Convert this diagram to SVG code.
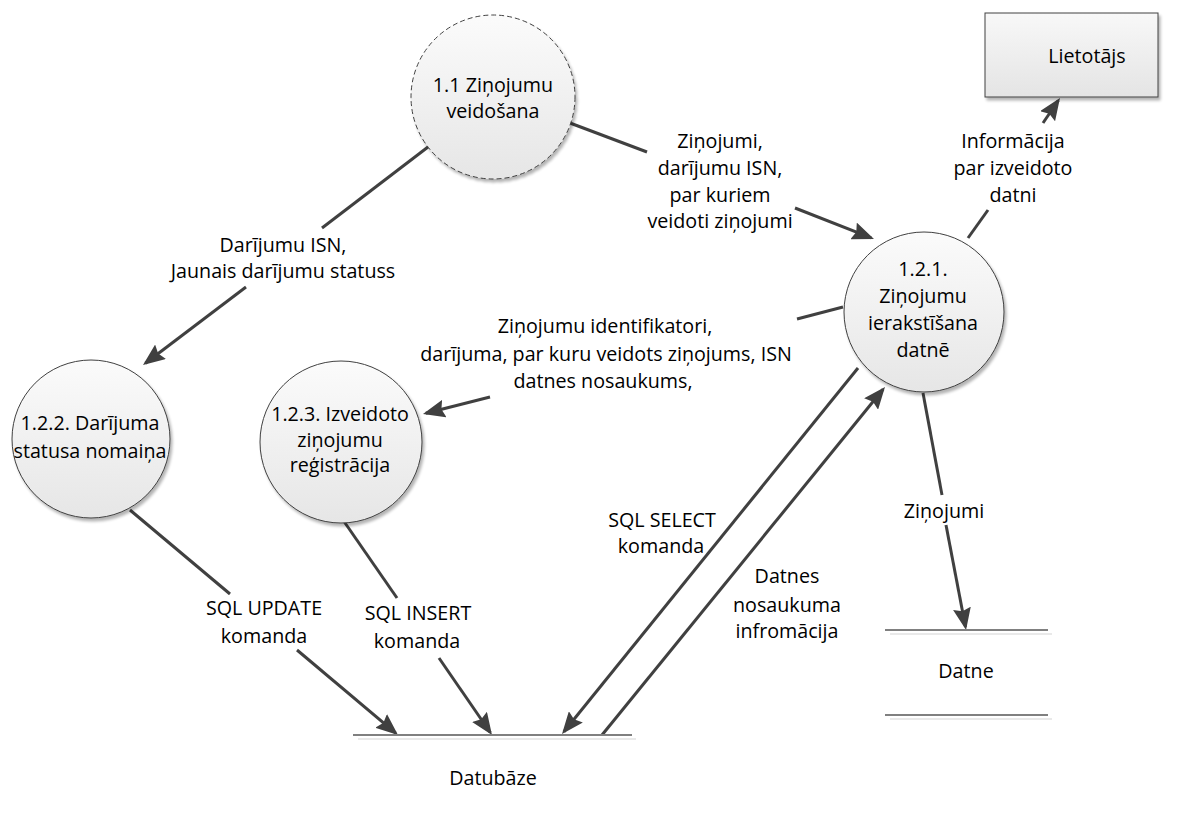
<svg xmlns="http://www.w3.org/2000/svg" width="1190" height="818" viewBox="0 0 1190 818">
<defs>
<linearGradient id="gc" x1="0" y1="0" x2="0" y2="1">
<stop offset="0" stop-color="#fbfbfb"/>
<stop offset="1" stop-color="#e6e6e6"/>
</linearGradient>
<linearGradient id="gb" x1="0" y1="0" x2="0" y2="1">
<stop offset="0" stop-color="#f8f8f8"/>
<stop offset="1" stop-color="#e4e4e4"/>
</linearGradient>
<filter id="sh" x="-20%" y="-20%" width="150%" height="150%">
<feGaussianBlur in="SourceAlpha" stdDeviation="1.5"/>
<feOffset dx="2" dy="3"/>
<feComponentTransfer><feFuncA type="linear" slope="0.3"/></feComponentTransfer>
<feMerge><feMergeNode/><feMergeNode in="SourceGraphic"/></feMerge>
</filter>
<marker id="ah" markerUnits="userSpaceOnUse" markerWidth="22" markerHeight="18" refX="19" refY="9" orient="auto">
<path d="M0,0 L22,9 L0,18 L3,9 z" fill="#404040"/>
</marker>
</defs>
<style>
text{font-family:"Open Sans","Liberation Sans",sans-serif;font-size:19.7px;fill:#000;text-anchor:middle}
.ln{stroke:#404040;stroke-width:3;fill:none}
.ar{marker-end:url(#ah)}
.node{fill:url(#gc);stroke:#404040;stroke-width:1;filter:url(#sh)}
.dash{stroke-dasharray:5 3}
.store{stroke:#808080;stroke-width:2}
.store2{stroke:#e2e2e2;stroke-width:1.5}
</style>
<rect width="1190" height="818" fill="#ffffff"/>

<g id="connectors">
<g id="c-11-122">
<line class="ln" x1="428" y1="147" x2="322" y2="228"/>
<line class="ln ar" x1="246" y1="287" x2="145.4" y2="363.2"/>
<text x="283" y="252">Darījumu ISN,</text>
<text x="283" y="278">Jaunais darījumu statuss</text>
</g>
<g id="c-11-121">
<line class="ln" x1="570" y1="123" x2="647" y2="152"/>
<line class="ln ar" x1="795" y1="208" x2="871.2" y2="237.9"/>
<text x="720" y="148">Ziņojumi,</text>
<text x="720" y="175">darījumu ISN,</text>
<text x="720" y="202">par kuriem</text>
<text x="720" y="228">veidoti ziņojumi</text>
</g>
<g id="c-121-123">
<line class="ln" x1="843" y1="307" x2="797" y2="319"/>
<line class="ln ar" x1="490" y1="397" x2="425.9" y2="413.3"/>
<text x="605" y="333">Ziņojumu identifikatori,</text>
<text x="606" y="361">darījuma, par kuru veidots ziņojums, ISN</text>
<text x="603" y="388">datnes nosaukums,</text>
</g>
<g id="c-121-user">
<line class="ln" x1="968" y1="238" x2="988" y2="210"/>
<line class="ln ar" x1="1043" y1="123" x2="1058.3" y2="100.5"/>
<text x="1013" y="148">Informācija</text>
<text x="1013" y="175">par izveidoto</text>
<text x="1013" y="202">datni</text>
</g>
<g id="c-122-db">
<line class="ln" x1="130" y1="510" x2="230" y2="594"/>
<line class="ln ar" x1="297" y1="650" x2="395.7" y2="733.1"/>
<text x="264" y="615">SQL UPDATE</text>
<text x="264" y="643">komanda</text>
</g>
<g id="c-123-db">
<line class="ln" x1="343" y1="520" x2="397" y2="598"/>
<line class="ln ar" x1="439" y1="658" x2="490.3" y2="732.5"/>
<text x="418" y="620">SQL INSERT</text>
<text x="417" y="648">komanda</text>
</g>
<g id="c-121-db">
<line class="ln ar" x1="858" y1="368" x2="563.9" y2="731.7"/>
<text x="662" y="527">SQL SELECT</text>
<text x="661" y="553">komanda</text>
</g>
<g id="c-db-121">
<line class="ln ar" x1="602" y1="735" x2="883.1" y2="389.3"/>
<text x="787" y="583">Datnes</text>
<text x="787" y="612">nosaukuma</text>
<text x="787" y="638">infromācija</text>
</g>
<g id="c-121-datne">
<line class="ln" x1="923" y1="393" x2="942" y2="495"/>
<line class="ln ar" x1="946" y1="525" x2="965.5" y2="627"/>
<text x="944" y="518">Ziņojumi</text>
</g>
</g>

<g id="n-11">
<circle class="node dash" cx="493" cy="97" r="82"/>
<text x="493" y="92">1.1 Ziņojumu</text>
<text x="493" y="118">veidošana</text>
</g>

<g id="n-121">
<circle class="node" cx="924" cy="312" r="80"/>
<text x="923" y="276">1.2.1.</text>
<text x="923" y="303">Ziņojumu</text>
<text x="923" y="330">ierakstīšana</text>
<text x="923" y="357">datnē</text>
</g>

<g id="n-122">
<circle class="node" cx="91" cy="439" r="79"/>
<text x="90" y="430">1.2.2. Darījuma</text>
<text x="90" y="458">statusa nomaiņa</text>
</g>

<g id="n-123">
<circle class="node" cx="341" cy="442" r="81"/>
<text x="340" y="421">1.2.3. Izveidoto</text>
<text x="340" y="447">ziņojumu</text>
<text x="340" y="472">reģistrācija</text>
</g>

<g id="n-user">
<rect x="985" y="13" width="173" height="84" fill="url(#gb)" stroke="#404040" stroke-width="1" filter="url(#sh)"/>
<text x="1087" y="63">Lietotājs</text>
</g>

<g id="n-db">
<line class="store2" x1="358" y1="739" x2="636" y2="739"/>
<line class="store" x1="353" y1="735" x2="632" y2="735"/>
<text x="493" y="785">Datubāze</text>
</g>

<g id="n-datne">
<line class="store2" x1="890" y1="634" x2="1052" y2="634"/>
<line class="store" x1="885" y1="630" x2="1048" y2="630"/>
<line class="store2" x1="890" y1="719" x2="1052" y2="719"/>
<line class="store" x1="885" y1="715" x2="1048" y2="715"/>
<text x="966" y="678">Datne</text>
</g>
</svg>
